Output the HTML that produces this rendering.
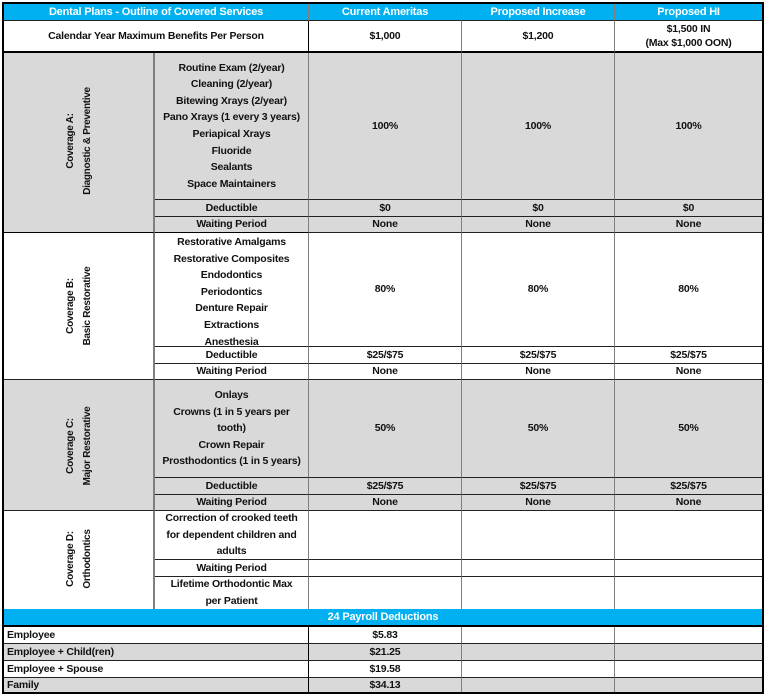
<!DOCTYPE html>
<html><head><meta charset="utf-8"><style>
body{margin:0;width:768px;height:694px;background:#fff;overflow:hidden}
#t{position:absolute;left:2px;top:2px;width:762px;height:692px;border:2px solid #000;box-sizing:border-box;}
.c{position:absolute;box-sizing:border-box;display:flex;flex-direction:column;align-items:center;justify-content:center;text-align:center;font:bold 10.5px/16.6px "Liberation Sans",sans-serif;color:#111;border-right:1px solid #7f7f7f;border-bottom:1px solid #222;letter-spacing:-0.2px}
.g{background:#d9d9d9}
.b{background:#00b0f0;color:#fff;font-size:11px}
.l{align-items:flex-start;padding-left:3px}
.v{position:absolute;transform:rotate(-90deg);white-space:nowrap;font:bold 10px/17px "Liberation Sans",sans-serif;text-align:center;color:#111;letter-spacing:-0.3px}
</style></head><body>
<div id="t">
<div class="c b" style="left:0;top:0;width:305px;height:17px">Dental Plans - Outline of Covered Services</div>
<div class="c b" style="left:305px;top:0;width:153px;height:17px">Current Ameritas</div>
<div class="c b" style="left:458px;top:0;width:153px;height:17px">Proposed Increase</div>
<div class="c b" style="left:611px;top:0;width:147px;height:17px;border-right:0">Proposed HI</div>
<div class="c" style="left:0;top:17px;width:305px;height:32px;border-bottom:2px solid #000;border-right:1px solid #000">Calendar Year Maximum Benefits Per Person</div>
<div class="c" style="left:305px;top:17px;width:153px;height:32px;border-bottom:2px solid #000">$1,000</div>
<div class="c" style="left:458px;top:17px;width:153px;height:32px;border-bottom:2px solid #000">$1,200</div>
<div class="c" style="left:611px;top:17px;width:147px;height:32px;border-bottom:2px solid #000;border-right:0;line-height:14px">$1,500 IN<br>(Max $1,000 OON)</div>

<div class="c g" style="left:0;top:49px;width:151px;height:180px;border-bottom:1px solid #000;border-right:2px solid #7f7f7f"></div>
<div class="v" style="left:-5px;top:120px;width:160px">Coverage A:<br>Diagnostic &amp; Preventive</div>
<div class="c g" style="left:151px;top:49px;width:154px;height:147px">Routine Exam (2/year)<br>Cleaning (2/year)<br>Bitewing Xrays (2/year)<br>Pano Xrays (1 every 3 years)<br>Periapical Xrays<br>Fluoride<br>Sealants<br>Space Maintainers</div>
<div class="c g" style="left:305px;top:49px;width:153px;height:147px">100%</div>
<div class="c g" style="left:458px;top:49px;width:153px;height:147px">100%</div>
<div class="c g" style="left:611px;top:49px;width:147px;height:147px;border-right:0">100%</div>
<div class="c g" style="left:151px;top:196px;width:154px;height:17px">Deductible</div>
<div class="c g" style="left:305px;top:196px;width:153px;height:17px">$0</div>
<div class="c g" style="left:458px;top:196px;width:153px;height:17px">$0</div>
<div class="c g" style="left:611px;top:196px;width:147px;height:17px;border-right:0">$0</div>
<div class="c g" style="left:151px;top:213px;width:154px;height:16px;border-bottom-color:#000">Waiting Period</div>
<div class="c g" style="left:305px;top:213px;width:153px;height:16px">None</div>
<div class="c g" style="left:458px;top:213px;width:153px;height:16px">None</div>
<div class="c g" style="left:611px;top:213px;width:147px;height:16px;border-right:0">None</div>

<div class="c" style="left:0;top:229px;width:151px;height:147px;border-right:2px solid #7f7f7f"></div>
<div class="v" style="left:-5px;top:285px;width:160px">Coverage B:<br>Basic Restorative</div>
<div class="c" style="left:151px;top:229px;width:154px;height:114px;justify-content:flex-start;padding-top:1px">Restorative Amalgams<br>Restorative Composites<br>Endodontics<br>Periodontics<br>Denture Repair<br>Extractions<br>Anesthesia</div>
<div class="c" style="left:305px;top:229px;width:153px;height:114px">80%</div>
<div class="c" style="left:458px;top:229px;width:153px;height:114px">80%</div>
<div class="c" style="left:611px;top:229px;width:147px;height:114px;border-right:0">80%</div>
<div class="c" style="left:151px;top:343px;width:154px;height:17px">Deductible</div>
<div class="c" style="left:305px;top:343px;width:153px;height:17px">$25/$75</div>
<div class="c" style="left:458px;top:343px;width:153px;height:17px">$25/$75</div>
<div class="c" style="left:611px;top:343px;width:147px;height:17px;border-right:0">$25/$75</div>
<div class="c" style="left:151px;top:360px;width:154px;height:16px">Waiting Period</div>
<div class="c" style="left:305px;top:360px;width:153px;height:16px">None</div>
<div class="c" style="left:458px;top:360px;width:153px;height:16px">None</div>
<div class="c" style="left:611px;top:360px;width:147px;height:16px;border-right:0">None</div>

<div class="c g" style="left:0;top:376px;width:151px;height:131px;border-right:2px solid #7f7f7f"></div>
<div class="v" style="left:-5px;top:425px;width:160px">Coverage C:<br>Major Restorative</div>
<div class="c g" style="left:151px;top:376px;width:154px;height:98px">Onlays<br>Crowns (1 in 5 years per<br>tooth)<br>Crown Repair<br>Prosthodontics (1 in 5 years)</div>
<div class="c g" style="left:305px;top:376px;width:153px;height:98px">50%</div>
<div class="c g" style="left:458px;top:376px;width:153px;height:98px">50%</div>
<div class="c g" style="left:611px;top:376px;width:147px;height:98px;border-right:0">50%</div>
<div class="c g" style="left:151px;top:474px;width:154px;height:17px">Deductible</div>
<div class="c g" style="left:305px;top:474px;width:153px;height:17px">$25/$75</div>
<div class="c g" style="left:458px;top:474px;width:153px;height:17px">$25/$75</div>
<div class="c g" style="left:611px;top:474px;width:147px;height:17px;border-right:0">$25/$75</div>
<div class="c g" style="left:151px;top:491px;width:154px;height:16px">Waiting Period</div>
<div class="c g" style="left:305px;top:491px;width:153px;height:16px">None</div>
<div class="c g" style="left:458px;top:491px;width:153px;height:16px">None</div>
<div class="c g" style="left:611px;top:491px;width:147px;height:16px;border-right:0">None</div>

<div class="c" style="left:0;top:507px;width:151px;height:98px;border-right:2px solid #7f7f7f;border-bottom:0"></div>
<div class="v" style="left:-5px;top:538px;width:160px">Coverage D:<br>Orthodontics</div>
<div class="c" style="left:151px;top:507px;width:154px;height:49px">Correction of crooked teeth<br>for dependent children and<br>adults</div>
<div class="c" style="left:305px;top:507px;width:153px;height:49px"></div>
<div class="c" style="left:458px;top:507px;width:153px;height:49px"></div>
<div class="c" style="left:611px;top:507px;width:147px;height:49px;border-right:0"></div>
<div class="c" style="left:151px;top:556px;width:154px;height:17px">Waiting Period</div>
<div class="c" style="left:305px;top:556px;width:153px;height:17px"></div>
<div class="c" style="left:458px;top:556px;width:153px;height:17px"></div>
<div class="c" style="left:611px;top:556px;width:147px;height:17px;border-right:0"></div>
<div class="c" style="left:151px;top:573px;width:154px;height:32px;border-bottom:0">Lifetime Orthodontic Max<br>per Patient</div>
<div class="c" style="left:305px;top:573px;width:153px;height:32px;border-bottom:0"></div>
<div class="c" style="left:458px;top:573px;width:153px;height:32px;border-bottom:0"></div>
<div class="c" style="left:611px;top:573px;width:147px;height:32px;border-right:0;border-bottom:0"></div>

<div class="c b" style="left:0;top:605px;width:758px;height:18px;border-right:0;border-bottom:2px solid #000">24 Payroll Deductions</div>
<div class="c l" style="left:0;top:623px;width:305px;height:17px;border-right-color:#000">Employee</div>
<div class="c" style="left:305px;top:623px;width:153px;height:17px">$5.83</div>
<div class="c" style="left:458px;top:623px;width:153px;height:17px"></div>
<div class="c" style="left:611px;top:623px;width:147px;height:17px;border-right:0"></div>
<div class="c l g" style="left:0;top:640px;width:305px;height:17px;border-right-color:#000">Employee + Child(ren)</div>
<div class="c g" style="left:305px;top:640px;width:153px;height:17px">$21.25</div>
<div class="c g" style="left:458px;top:640px;width:153px;height:17px"></div>
<div class="c g" style="left:611px;top:640px;width:147px;height:17px;border-right:0"></div>
<div class="c l" style="left:0;top:657px;width:305px;height:17px;border-right-color:#000">Employee + Spouse</div>
<div class="c" style="left:305px;top:657px;width:153px;height:17px">$19.58</div>
<div class="c" style="left:458px;top:657px;width:153px;height:17px"></div>
<div class="c" style="left:611px;top:657px;width:147px;height:17px;border-right:0"></div>
<div class="c l g" style="left:0;top:674px;width:305px;height:14px;border-right-color:#000;border-bottom:0">Family</div>
<div class="c g" style="left:305px;top:674px;width:153px;height:14px;border-bottom:0">$34.13</div>
<div class="c g" style="left:458px;top:674px;width:153px;height:14px;border-bottom:0"></div>
<div class="c g" style="left:611px;top:674px;width:147px;height:14px;border-right:0;border-bottom:0"></div>
</div>
</body></html>
